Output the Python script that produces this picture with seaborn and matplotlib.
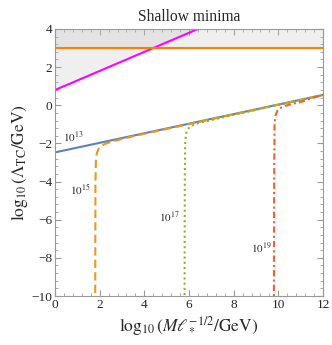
import numpy as np
import pandas as pd
import matplotlib
matplotlib.use("Agg")
import matplotlib.pyplot as plt
from matplotlib.ticker import MultipleLocator
import seaborn as sns

# ---- data ----
blue_x = [0.0, 12.0]
blue_y = [-2.47, 0.54]

orange_x = [1.80, 1.81, 1.83, 1.87, 1.95, 2.05, 2.25, 2.6, 3.0, 3.6, 12.0]
orange_y = [-10.5, -4.0, -2.95, -2.52, -2.28, -2.14, -2.02, -1.89, -1.77, -1.60, 0.54]

green_x = [5.80, 5.81, 5.83, 5.87, 5.95, 6.05, 6.25, 6.6, 7.0, 7.6, 12.0]
green_y = [-10.5, -4.0, -1.95, -1.47, -1.25, -1.12, -1.00, -0.88, -0.78, -0.61, 0.54]

red_x = [9.80, 9.81, 9.83, 9.87, 9.95, 10.05, 10.25, 10.6, 11.0, 11.6, 12.0]
red_y = [-10.5, -4.0, -0.95, -0.55, -0.30, -0.17, -0.05, 0.07, 0.17, 0.41, 0.54]

magenta_x = [0.0, 12.0]
magenta_y = [0.8, 6.8]

cut_y = 3.0

labels = ["$10^{13}$", "$10^{15}$", "$10^{17}$", "$10^{19}$"]
label_x = [0.81, 1.12, 5.1, 9.22]
label_y = [-1.66, -4.44, -5.86, -7.48]

# ---- style ----
sns.set_style("ticks")
plt.rcParams['font.family'] = ['Liberation Serif', 'DejaVu Serif']
plt.rcParams['mathtext.fontset'] = 'stix'

fig = plt.figure(figsize=(3.32, 3.45), dpi=100)
ax = fig.add_axes([0.1657, 0.142, 0.8073, 0.774])

# excluded regions
xs = np.array(magenta_x)
ax.fill_between(xs, cut_y, 10, color='#c0c0c0', alpha=0.24, lw=0)
ax.fill_between(xs, magenta_y, 10, color='#c0c0c0', alpha=0.24, lw=0)

sns.lineplot(x=magenta_x, y=magenta_y, color='#FF00FF', lw=1.5, ax=ax)
ax.axhline(cut_y, color='#FF8000', lw=1.5)

sns.lineplot(x=blue_x, y=blue_y, color='#5E81B5', lw=1.5, ax=ax)
sns.lineplot(x=orange_x, y=orange_y, color='#E19C24', lw=1.5, ls=(0, (4, 2)),
             sort=False, estimator=None, ax=ax)
sns.lineplot(x=green_x, y=green_y, color='#8FB131', lw=1.5, ls=(0, (1, 1.5)),
             sort=False, estimator=None, ax=ax)
sns.lineplot(x=red_x, y=red_y, color='#EB6235', lw=1.5, ls=(0, (3, 1.5, 1, 1.5)),
             sort=False, estimator=None, ax=ax)

for t, lx, ly in zip(labels, label_x, label_y):
    ax.text(lx, ly, t, fontsize=8, ha='center', va='center')

ax.set_xlim(0, 12)
ax.set_ylim(-10, 4)
ax.xaxis.set_major_locator(MultipleLocator(2))
ax.xaxis.set_minor_locator(MultipleLocator(0.4))
ax.yaxis.set_major_locator(MultipleLocator(2))
ax.yaxis.set_minor_locator(MultipleLocator(0.4))
ax.tick_params(which='both', direction='in', top=True, right=True,
               color='#999999', labelsize=9.5, pad=2)
ax.tick_params(which='major', length=4, width=0.8)
ax.tick_params(which='minor', length=2, width=0.6)
for s in ax.spines.values():
    s.set_color('#999999')
    s.set_linewidth(0.8)

ax.set_xlabel(r'$\log_{10}(M\ell_*^{-1/2}/\mathrm{GeV})$', fontsize=12.5, labelpad=3)
ax.set_ylabel(r'$\log_{10}(\Lambda_{\rm TC}/\mathrm{GeV})$', fontsize=12.5, labelpad=1)
ax.set_title('Shallow minima', fontsize=11.2, pad=6)

fig.savefig('out.png', dpi=100)
